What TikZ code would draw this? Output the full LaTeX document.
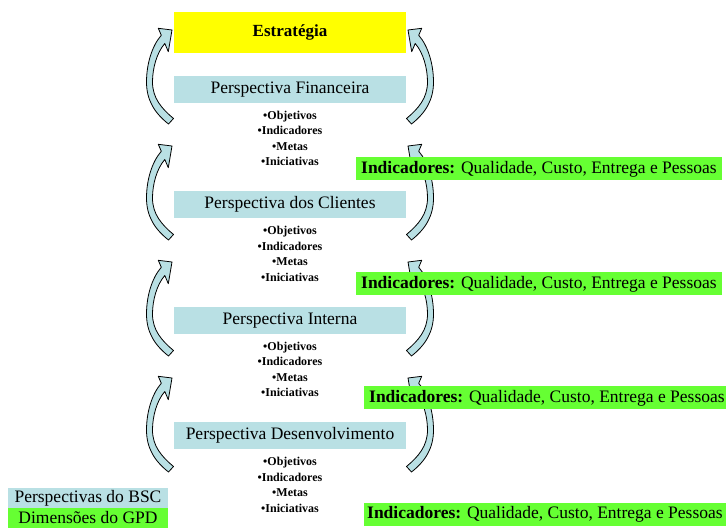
\documentclass[tikz,border=0pt]{standalone}
\usepackage{fontspec}
\setmainfont{Liberation Serif}
\definecolor{bscblue}{RGB}{185,224,228}
\definecolor{gpdgreen}{RGB}{102,255,51}
\definecolor{goalyellow}{RGB}{255,255,0}
\tikzset{bscloop/.pic={
  \filldraw [style=curvedarrow] (158.3,28.3) -- (172,30) -- (168.3,51.7) -- (164.8,43.5)
    .. controls (156.9,52.5) and (152.5,68) .. (152.5,82)
    .. controls (152.5,98) and (161.5,108.5) .. (173.5,118.5)
    -- (168.5,124)
    .. controls (154.5,113) and (146.5,100) .. (146.5,82)
    .. controls (146.5,64) and (152,45.8) .. (161.3,35.3) -- cycle;
}}

\begin{document}
\begin{tikzpicture}[x=1pt, y=-1pt]
% Styles
\tikzstyle{goal}=[fill=goalyellow, minimum width=232, minimum height=41, inner sep=0, font=\fontsize{17}{20}\selectfont\bfseries]
\tikzstyle{persp}=[fill=bscblue, minimum width=232, minimum height=27, inner sep=0, font=\fontsize{17.5}{20}\selectfont]
\tikzstyle{items}=[align=center, inner sep=0, font=\fontsize{12}{15.5}\selectfont\bfseries]
\tikzstyle{indicator}=[fill=gpdgreen, anchor=west, minimum height=23, inner xsep=5, inner ysep=0, font=\fontsize{17.5}{20}\selectfont]
\tikzstyle{legend}=[minimum width=160, minimum height=20, inner sep=0, font=\fontsize{17.5}{20}\selectfont]
\tikzstyle{curvedarrow}=[fill=bscblue, draw=black, line width=0.8, line join=round]

\useasboundingbox (0,0) rectangle (726,529);

% loops between the perspectives
\pic at (0,0) {bscloop};
\pic [xscale=-1] at (580,0) {bscloop};
\pic at (0,116) {bscloop};
\pic [xscale=-1] at (580,116) {bscloop};
\pic at (0,232) {bscloop};
\pic [xscale=-1] at (580,232) {bscloop};
\pic at (0,348) {bscloop};
\pic [xscale=-1] at (580,348) {bscloop};

\node [style=goal] (0) at (290, 32.5) {Estratégia};

\node [style=persp] (1) at (290, 89.5) {Perspectiva Financeira};
\node [style=items] (2) at (290, 138.5) {•Objetivos\\•Indicadores\\•Metas\\•Iniciativas};
\node [style=persp] (3) at (290, 204.5) {Perspectiva dos Clientes};
\node [style=items] (4) at (290, 254) {•Objetivos\\•Indicadores\\•Metas\\•Iniciativas};
\node [style=persp] (5) at (290, 320.5) {Perspectiva Interna};
\node [style=items] (6) at (290, 369.5) {•Objetivos\\•Indicadores\\•Metas\\•Iniciativas};
\node [style=persp] (7) at (290, 435) {Perspectiva Desenvolvimento};
\node [style=items] (8) at (290, 485) {•Objetivos\\•Indicadores\\•Metas\\•Iniciativas};

\node [style=indicator] (9) at (356, 169) {\textbf{Indicadores:} Qualidade, Custo, Entrega e Pessoas};
\node [style=indicator] (10) at (356, 284) {\textbf{Indicadores:} Qualidade, Custo, Entrega e Pessoas};
\node [style=indicator] (11) at (364, 398) {\textbf{Indicadores:} Qualidade, Custo, Entrega e Pessoas};
\node [style=indicator, inner xsep=3] (12) at (364, 514.5) {\textbf{Indicadores:} Qualidade, Custo, Entrega e Pessoas};

\node [style=legend, fill=bscblue] (13) at (88, 498) {Perspectivas do BSC};
\node [style=legend, fill=gpdgreen] (14) at (88, 518) {Dimensões do GPD};
\end{tikzpicture}
\end{document}
